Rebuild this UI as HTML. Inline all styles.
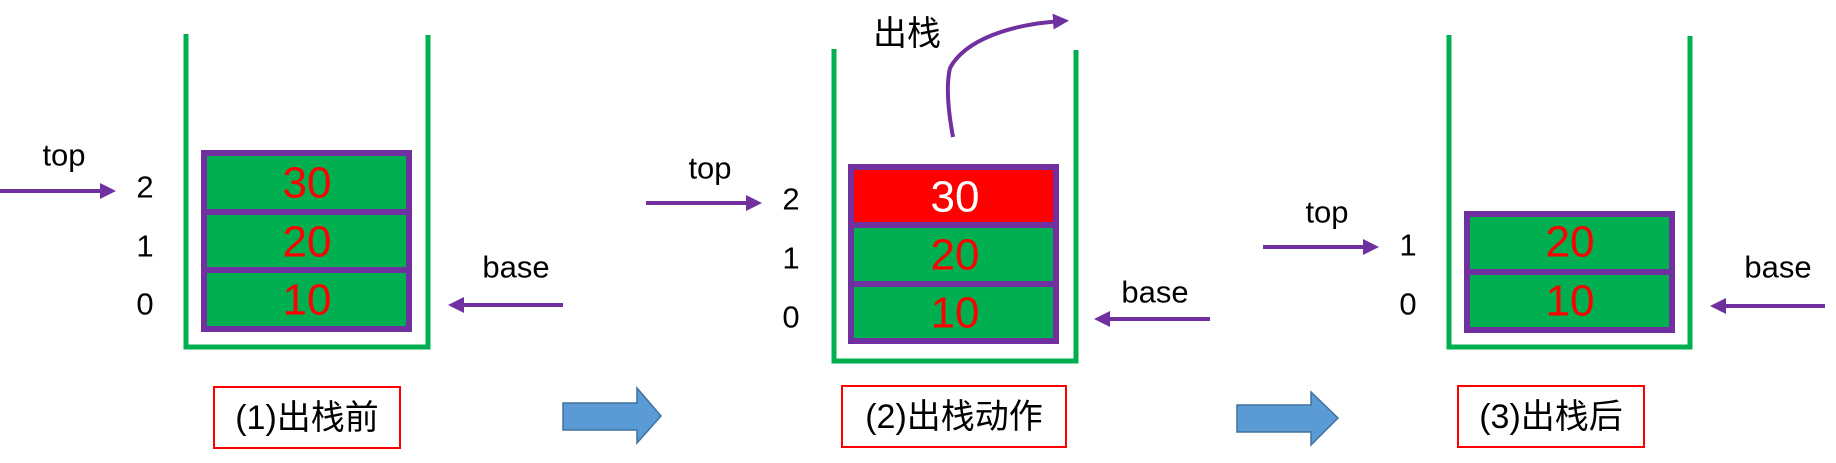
<!DOCTYPE html>
<html><head><meta charset="utf-8"><style>
html,body{margin:0;padding:0;background:#fff;}
svg{display:block;}
text{font-family:"Liberation Sans","Noto Sans CJK SC",sans-serif;}
</style></head><body>
<svg width="1836" height="463" viewBox="0 0 1836 463" xmlns="http://www.w3.org/2000/svg">
<defs>
<marker id="ah" markerWidth="4" markerHeight="4" refX="2.5" refY="2" orient="auto" markerUnits="strokeWidth">
<path d="M0,0 L4,2 L0,4 Z" fill="#7030a0"/></marker>
</defs>
<g fill="none" stroke="#00b050" stroke-width="5">
<polyline points="186,34 186,347 428,347 428,35"/>
<polyline points="834,49 834,361 1076,361 1076,50"/>
<polyline points="1449,35 1449,347 1690,347 1690,36"/>
</g>
<!-- panel1 -->
<rect x="204" y="153" width="205" height="176" fill="#00b050" stroke="#7030a0" stroke-width="6"/>
<line x1="204" y1="212" x2="409" y2="212" stroke="#7030a0" stroke-width="6"/>
<line x1="204" y1="270" x2="409" y2="270" stroke="#7030a0" stroke-width="6"/>
<g font-size="44" fill="#ff0000" text-anchor="middle" dominant-baseline="central">
<text x="307" y="183">30</text><text x="307" y="242">20</text><text x="307" y="300">10</text></g>
<g font-size="31" fill="#000" text-anchor="middle" dominant-baseline="central">
<text x="145" y="187">2</text><text x="145" y="246">1</text><text x="145" y="304">0</text>
<text x="64" y="155">top</text><text x="516" y="267">base</text></g>
<line x1="0" y1="191" x2="110" y2="191" stroke="#7030a0" stroke-width="4" marker-end="url(#ah)"/>
<line x1="563" y1="305" x2="454" y2="305" stroke="#7030a0" stroke-width="4" marker-end="url(#ah)"/>
<rect x="214" y="387" width="186" height="61" fill="none" stroke="#ff0000" stroke-width="2"/>
<text x="307" y="418" font-size="34" text-anchor="middle" dominant-baseline="central">(1)出栈前</text>
<!-- panel2 -->
<rect x="851" y="167" width="205" height="174" fill="#00b050" stroke="#7030a0" stroke-width="6"/>
<rect x="854" y="170" width="199" height="55" fill="#ff0000"/>
<line x1="851" y1="225" x2="1056" y2="225" stroke="#7030a0" stroke-width="6"/>
<line x1="851" y1="284" x2="1056" y2="284" stroke="#7030a0" stroke-width="6"/>
<g font-size="44" text-anchor="middle" dominant-baseline="central">
<text x="955" y="197" fill="#fff">30</text><text x="955" y="255" fill="#ff0000">20</text><text x="955" y="313" fill="#ff0000">10</text></g>
<g font-size="31" fill="#000" text-anchor="middle" dominant-baseline="central">
<text x="791" y="199">2</text><text x="791" y="258">1</text><text x="791" y="317">0</text>
<text x="710" y="168">top</text><text x="1155" y="292">base</text>
<text x="907" y="34" font-size="34">出栈</text></g>
<line x1="646" y1="203" x2="756" y2="203" stroke="#7030a0" stroke-width="4" marker-end="url(#ah)"/>
<line x1="1210" y1="319" x2="1100" y2="319" stroke="#7030a0" stroke-width="4" marker-end="url(#ah)"/>
<path d="M953,137 C948,110 946,85 950,68 C965,40 1010,24 1063,21" fill="none" stroke="#7030a0" stroke-width="4" marker-end="url(#ah)"/>
<rect x="842" y="386" width="224" height="61" fill="none" stroke="#ff0000" stroke-width="2"/>
<text x="954" y="417" font-size="34" text-anchor="middle" dominant-baseline="central">(2)出栈动作</text>
<!-- panel3 -->
<rect x="1467" y="214" width="205" height="116" fill="#00b050" stroke="#7030a0" stroke-width="6"/>
<line x1="1467" y1="272" x2="1672" y2="272" stroke="#7030a0" stroke-width="6"/>
<g font-size="44" fill="#ff0000" text-anchor="middle" dominant-baseline="central">
<text x="1570" y="242">20</text><text x="1570" y="301">10</text></g>
<g font-size="31" fill="#000" text-anchor="middle" dominant-baseline="central">
<text x="1408" y="245">1</text><text x="1408" y="304">0</text>
<text x="1327" y="212">top</text><text x="1778" y="267">base</text></g>
<line x1="1263" y1="247" x2="1373" y2="247" stroke="#7030a0" stroke-width="4" marker-end="url(#ah)"/>
<line x1="1825" y1="306" x2="1716" y2="306" stroke="#7030a0" stroke-width="4" marker-end="url(#ah)"/>
<rect x="1458" y="386" width="186" height="61" fill="none" stroke="#ff0000" stroke-width="2"/>
<text x="1551" y="417" font-size="34" text-anchor="middle" dominant-baseline="central">(3)出栈后</text>
<!-- blue arrows -->
<path d="M563,403 L637,403 L637,388 L661,416 L637,443 L637,430 L563,430 Z" fill="#5b9bd5" stroke="#41719c" stroke-width="1.5"/>
<path d="M1237,405 L1311,405 L1311,392 L1338,418 L1311,445 L1311,432 L1237,432 Z" fill="#5b9bd5" stroke="#41719c" stroke-width="1.5"/>
</svg>
</body></html>
